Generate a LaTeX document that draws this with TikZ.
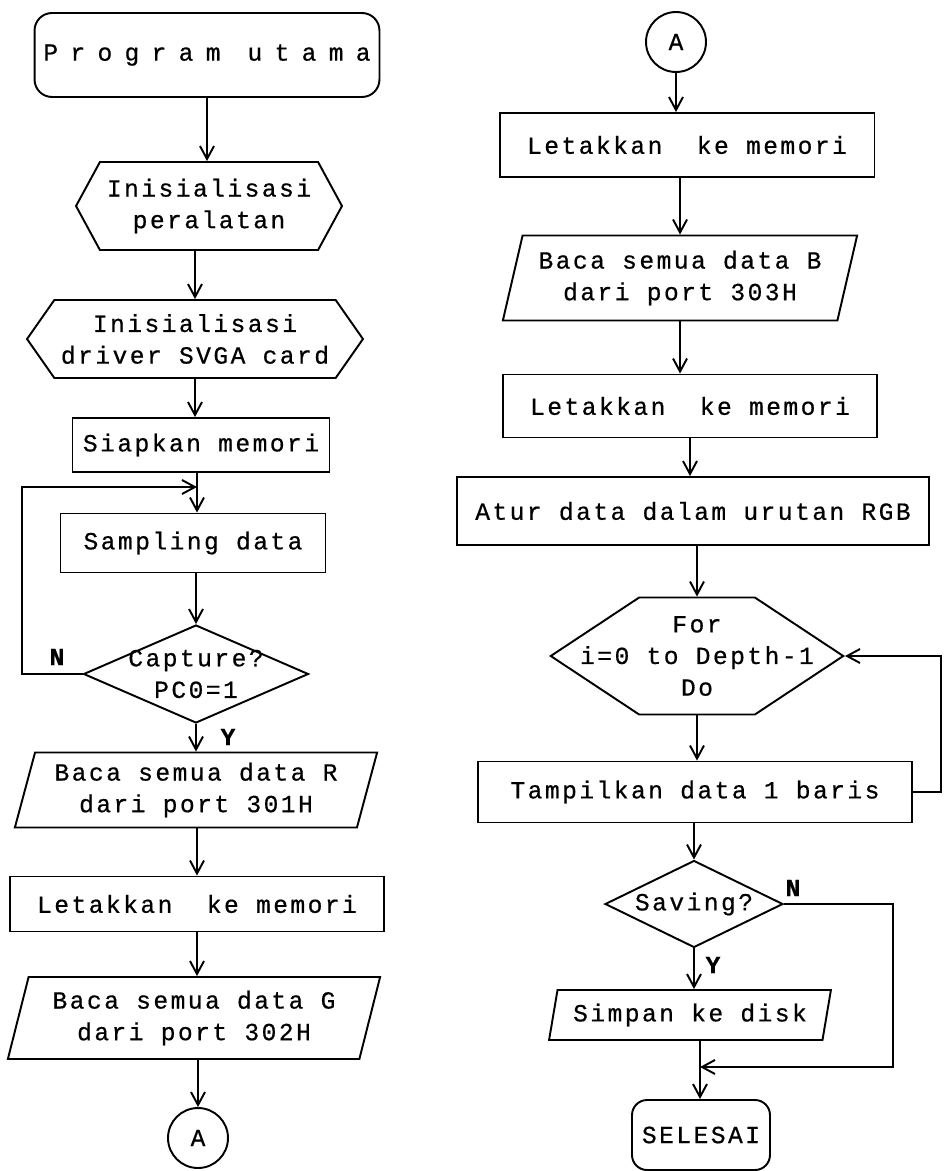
\documentclass[tikz,border=0pt]{standalone}
\usepackage{fontspec}
\setmainfont{Liberation Mono}[LetterSpace=10,FakeBold=0.6]
\newfontfamily\widefont{Liberation Mono}[LetterSpace=50,FakeBold=0.6]
\usetikzlibrary{shapes.geometric,shapes.symbols,arrows.meta}

\begin{document}
\begin{tikzpicture}[x=0.02cm,y=-0.02cm,line width=1.1pt,
    every node/.style={font=\fontsize{14}{18}\selectfont,align=center,inner sep=0pt},
    termbox/.style={draw,rectangle,rounded corners=0.35cm},
    prepbox/.style={draw,signal,signal to=west and east,signal pointer angle=#1},
    procbox/.style={draw,rectangle},
    iobox/.style={draw,trapezium,trapezium left angle=72,trapezium right angle=108,trapezium stretches=true},
    decbox/.style={draw,diamond,aspect=#1},
    conbox/.style={draw,circle,minimum size=1.2cm},
    lbl/.style={font=\fontsize{14}{18}\selectfont\bfseries},
    arr/.style={-{Straight Barb[length=0.26cm,width=0.28cm]}}]
    \useasboundingbox (0,0) rectangle (944,1171);

    % left column
    \node[termbox,minimum width=6.9cm,minimum height=1.68cm] (start) at (207,55) {\widefont Program utama};
    \node[prepbox=123,minimum width=5.32cm,minimum height=1.76cm] (init1) at (209,206) {Inisialisasi\\peralatan};
    \node[prepbox=110,minimum width=6.72cm,minimum height=1.56cm] (init2) at (195,339) {Inisialisasi\\driver SVGA card};
    \node[procbox,minimum width=5.14cm,minimum height=1.08cm] (mem) at (201,445) {Siapkan memori};
    \node[procbox,minimum width=5.3cm,minimum height=1.18cm] (samp) at (193,543) {Sampling data};
    \node[decbox=2.3,inner sep=-2.6pt,minimum width=4.5cm,minimum height=1.96cm] (capt) at (196,674) {Capture?\\PC0=1};
    \node[iobox,minimum width=7.26cm,minimum height=1.5cm] (readR) at (196,790) {Baca semua data R\\dari port 301H};
    \node[procbox,minimum width=7.5cm,minimum height=1.1cm] (putR) at (197,904) {Letakkan~~ke memori};
    \node[iobox,minimum width=7.46cm,minimum height=1.64cm] (readG) at (194,1018) {Baca semua data G\\dari port 302H};
    \node[conbox] (conA) at (198,1138) {A};

    \coordinate (j1) at (197,487);
    \coordinate (lp) at (22,0);
    \node[lbl] (capN) at (57,657) {N};
    \node[lbl] (capY) at (228,737) {Y};

    \draw[arr] (start.south) -- (start.south |- init1.north);
    \draw[arr] (init1.south -| init2.north) -- (init2.north);
    \draw[arr] (init2.south) -- (init2.south |- mem.north);
    \draw[arr] (mem.south -| j1) -- (j1 |- samp.north);
    \draw[arr] (samp.south -| capt.north) -- (capt.north);
    \draw[arr] (capt.west) -- (capt.west -| lp) |- (j1);
    \draw[arr] (capt.south) -- (capt.south |- readR.north);
    \draw[arr] (readR.south -| putR.north) -- (putR.north);
    \draw[arr] (putR.south) -- (putR.south |- readG.north);
    \draw[arr] (readG.south -| conA.north) -- (conA.north);

    % right column
    \node[conbox] (conB) at (676,42) {A};
    \node[procbox,minimum width=7.5cm,minimum height=1.28cm] (putG) at (687,145) {Letakkan~~ke memori};
    \node[iobox,minimum width=7.1cm,minimum height=1.7cm] (readB) at (680,278) {Baca semua data B\\dari port 303H};
    \node[procbox,minimum width=7.48cm,minimum height=1.26cm] (putB) at (690,406) {Letakkan~~ke memori};
    \node[procbox,minimum width=9.44cm,minimum height=1.36cm] (rgb) at (693,511) {Atur data dalam urutan RGB};
    \node[prepbox=67,inner xsep=-1.18cm,minimum height=2.34cm] (loop) at (697,656) {For\\i=0 to Depth-1\\Do};
    \node[procbox,minimum width=8.7cm,minimum height=1.22cm] (show) at (695,792) {Tampilkan data 1 baris};
    \node[decbox=2.05,minimum width=3.56cm,minimum height=1.74cm] (save) at (694,904) {Saving?};
    \node[iobox,minimum width=5.64cm,minimum height=1cm] (disk) at (690,1015) {Simpan ke disk};
    \node[termbox,minimum width=2.76cm,minimum height=1.4cm,rounded corners=0.3cm] (stop) at (701,1135) {SELESAI};

    \coordinate (rx) at (941,0);
    \coordinate (sx) at (893,0);
    \coordinate (j2) at (700,1067);
    \node[lbl] (saveN) at (793,888) {N};
    \node[lbl] (saveY) at (713,965) {Y};

    \draw[arr] (conB.south) -- (conB.south |- putG.north);
    \draw[arr] (putG.south -| readB.north) -- (readB.north);
    \draw[arr] (readB.south) -- (readB.south |- putB.north);
    \draw[arr] (putB.south) -- (putB.south |- rgb.north);
    \draw[arr] (rgb.south -| loop.north) -- (loop.north);
    \draw[arr] (loop.south) -- (loop.south |- show.north);
    \draw[arr] (show.east) -- (show.east -| rx) |- (loop.east);
    \draw[arr] (show.south -| save.north) -- (save.north);
    \draw[arr] (save.south) -- (save.south |- disk.north);
    \draw[arr] (save.east) -- (save.east -| sx) |- (j2);
    \draw[arr] (disk.south -| j2) -- (j2 |- stop.north);
\end{tikzpicture}
\end{document}
